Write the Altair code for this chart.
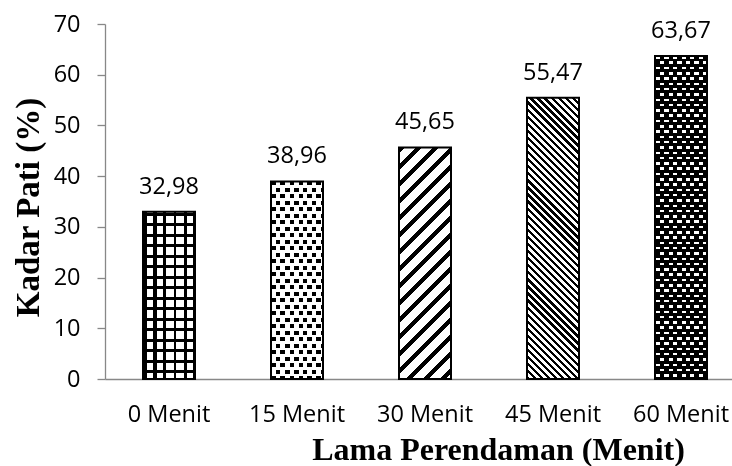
import math

import altair as alt
import pandas as pd

# Data
categories = ["0 Menit", "15 Menit", "30 Menit", "45 Menit", "60 Menit"]
kadar_pati = [32.98, 38.96, 45.65, 55.47, 63.67]
y_ticks = [0, 10, 20, 30, 40, 50, 60, 70]

# Layout (pixels)
PLOT_W, PLOT_H = 627, 355
Y_MAX = 70
STEP, BAND = 128.0, 52.0
PAD_INNER = 1 - BAND / STEP
PAD_OUTER = (PLOT_W / STEP - (len(categories) - PAD_INNER)) / 2
ALIGN = 38.0 / (2 * PAD_OUTER * STEP)

BLACK, WHITE, CLEAR = "#000000", "#ffffff", "rgba(0,0,0,0)"
SANS, SERIF = "Open Sans", "Liberation Serif"
AXIS_GRAY = "#888888"

df = pd.DataFrame({
    "kategori": categories,
    "kadar": kadar_pati,
    "label": [f"{v:.2f}".replace(".", ",") for v in kadar_pati],
})


def stripes(h, a, b, period, thick, on, off, phase=0.0, w=BAND):
    """Linear gradient that paints pixel-regular stripes inside a bar of w x h.

    Stripes run along the iso-lines of f(X, Y) = a*X + b*Y (pixel units);
    `thick` of every `period` is painted with `on`, the rest with `off`.
    """
    A, B = a * w, b * h
    F = abs(A) + abs(B)
    x1 = 0.0 if A >= 0 else 1.0
    y1 = 0.0 if B >= 0 else 1.0
    lam = F / (A * A + B * B)
    x2, y2 = x1 + lam * A, y1 + lam * B

    def off_(p):
        return round(min(max(p / F, 0.0), 1.0), 5)

    stops = []
    pos = (phase % period) - period
    while pos < F:
        s1, e = pos + thick, pos + period
        if e > 0:
            stops += [
                {"offset": off_(pos), "color": on},
                {"offset": off_(s1), "color": on},
                {"offset": off_(s1), "color": off},
                {"offset": off_(e), "color": off},
            ]
        pos = e
    return {"gradient": "linear", "x1": x1, "y1": y1, "x2": round(x2, 5),
            "y2": round(y2, 5), "stops": stops}


def bar_h(v):
    return v * PLOT_H / Y_MAX


D = 1 / math.sqrt(2)
h = {c: bar_h(v) for c, v in zip(categories, kadar_pati)}

# (category, fill, blend) drawn bottom to top
fills = [
    # grid
    ("0 Menit", stripes(h["0 Menit"], 1, 0, 10, 3, BLACK, WHITE, 0.5), None),
    ("0 Menit", stripes(h["0 Menit"], 0, 1, 10.5, 3, BLACK, CLEAR, 1.0), None),
    # staggered black squares
    ("15 Menit", stripes(h["15 Menit"], 1, 0, 9, 4.5, BLACK, WHITE, 0.5), None),
    ("15 Menit", stripes(h["15 Menit"], 0, 1, 13, 6.5, WHITE, BLACK, 6.5), "difference"),
    ("15 Menit", stripes(h["15 Menit"], 0, 1, 6.5, 2.5, WHITE, CLEAR, 4.0), None),
    # wide "/" hatch
    ("30 Menit", stripes(h["30 Menit"], D, D, 12, 4.5, BLACK, WHITE), None),
    # narrow "\" hatch
    ("45 Menit", stripes(h["45 Menit"], D, -D, 5, 2.3, BLACK, WHITE), None),
    # staggered white dashes on black
    ("60 Menit", stripes(h["60 Menit"], 1, 0, 8.5, 4.25, WHITE, BLACK, 1), None),
    ("60 Menit", stripes(h["60 Menit"], 0, 1, 10.6, 5.3, WHITE, BLACK, 5.3), "difference"),
    ("60 Menit", stripes(h["60 Menit"], 0, 1, 5.3, 2.8, BLACK, CLEAR, 2.5), None),
]

base = alt.Chart(df).encode(
    x=alt.X(
        "kategori:N",
        sort=categories,
        scale=alt.Scale(domain=categories, paddingInner=PAD_INNER,
                        paddingOuter=PAD_OUTER, align=ALIGN),
        axis=alt.Axis(
            title="Lama Perendaman (Menit)",
            titleFont=SERIF, titleFontWeight="bold", titleFontSize=32,
            titleColor=BLACK, titleX=393, titleY=80, titleAlign="center",
            titleBaseline="alphabetic",
            labelFont=SANS, labelFontSize=23.5, labelColor=BLACK, labelAngle=0,
            labelBaseline="alphabetic", labelPadding=42,
            ticks=False, domainColor=AXIS_GRAY, domainWidth=1.3, grid=False,
        ),
    ),
    y=alt.Y(
        "kadar:Q",
        scale=alt.Scale(domain=[0, Y_MAX], nice=False),
        axis=alt.Axis(
            title="Kadar Pati (%)", values=y_ticks, format="d",
            titleFont=SERIF, titleFontWeight="bold", titleFontSize=33,
            titleColor=BLACK, titleX=-67, titleY=183, titleAngle=270,
            titleAlign="center", titleBaseline="alphabetic",
            labelFont=SANS, labelFontSize=23.5, labelColor=BLACK,
            labelPadding=17, tickSize=8, tickColor=AXIS_GRAY, tickWidth=1.3,
            domainColor=AXIS_GRAY, domainWidth=1.3, grid=False,
        ),
    ),
)

layers = []
for cat, fill, blend in fills:
    kw = {"fill": fill}
    if blend:
        kw["blend"] = blend
    layers.append(base.mark_bar(**kw).transform_filter(alt.datum.kategori == cat))

outline = base.mark_bar(fillOpacity=0, stroke=BLACK, strokeWidth=2)
labels = base.mark_text(font=SANS, fontSize=23.5, color=BLACK,
                        baseline="alphabetic", dy=-18).encode(text="label:N")

chart = (
    alt.layer(*layers, outline, labels)
    .properties(
        width=PLOT_W, height=PLOT_H, autosize="none",
        padding={"left": 105, "top": 24, "right": 0, "bottom": 87},
        background="white",
    )
    .configure_view(stroke=None)
)

chart.save("out.html", embed_options={"renderer": "svg", "actions": False})
